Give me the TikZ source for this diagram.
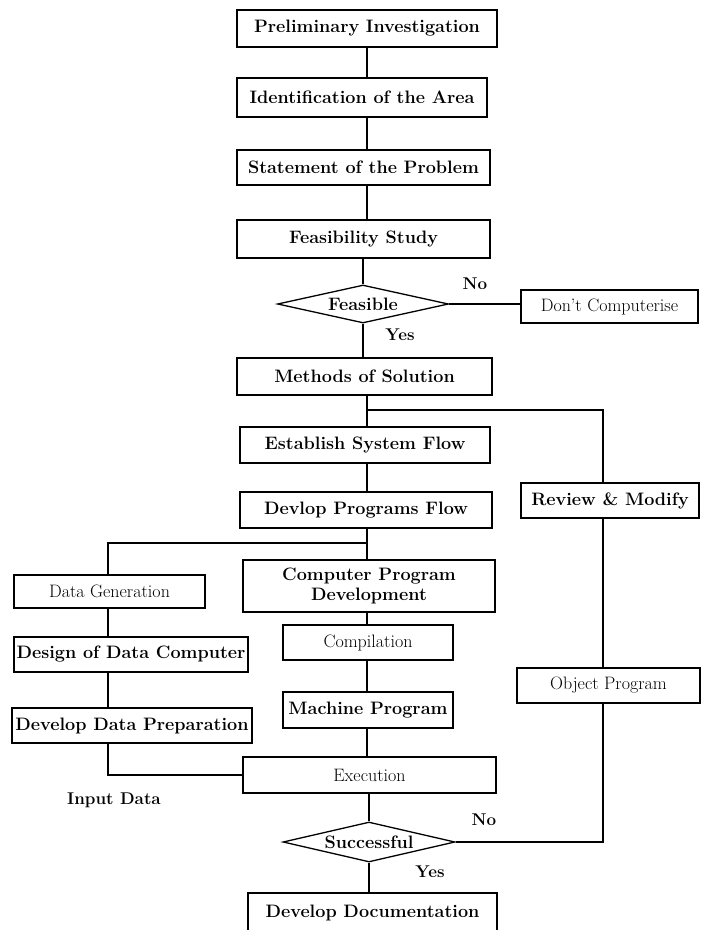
\documentclass[tikz,border=0pt]{standalone}
\usetikzlibrary{shapes.geometric}
\begin{document}
\begin{tikzpicture}[x=1pt,y=-1pt,
  line width=1.3pt,
  box/.style={draw, rectangle, inner sep=0pt, font=\fontsize{18}{20}\selectfont\bfseries, align=center},
  plainbox/.style={box, font=\fontsize{18}{20}\selectfont},
  decision/.style={draw, diamond, inner sep=0pt},
  dtext/.style={font=\fontsize{18}{20}\selectfont\bfseries},
  lbl/.style={font=\fontsize{17}{19}\selectfont\bfseries},
  link/.style={line width=1.3pt}]
\useasboundingbox (0,0) rectangle (701,930);
\fill[white] (0,0) rectangle (701,930);

% main column
\node[box, minimum width=260pt, minimum height=37pt] (prelim) at (367,28.5) {Preliminary Investigation};
\node[box, minimum width=250pt, minimum height=39pt] (ident) at (362,97.5) {Identification of the Area};
\node[box, minimum width=253pt, minimum height=35pt] (stmt) at (363.5,167.5) {Statement of the Problem};
\node[box, minimum width=253pt, minimum height=38pt] (feas) at (363.5,239) {Feasibility Study};
\node[decision, minimum width=171pt, minimum height=38pt] (feasible) at (363,304) {};
\node[dtext] (feasibletxt) at (feasible) {Feasible};
\node[plainbox, minimum width=177pt, minimum height=33pt] (dontc) at (609.5,306.5) {Don't Computerise};
\node[box, minimum width=255pt, minimum height=37pt] (methods) at (364.5,376.5) {Methods of Solution};
\node[box, minimum width=250pt, minimum height=36pt] (estab) at (365,445) {Establish System Flow};
\node[box, minimum width=252pt, minimum height=36pt] (devprog) at (366,510) {Devlop Programs Flow};
\node[box, minimum width=252pt, minimum height=52pt] (cpd) at (369,586) {Computer Program\\Development};
\node[plainbox, minimum width=170pt, minimum height=35pt] (compil) at (368,642.5) {Compilation};
\node[box, minimum width=170pt, minimum height=36pt] (machine) at (368,710) {Machine Program};
\node[plainbox, minimum width=253pt, minimum height=36pt] (exec) at (369.5,775) {Execution};
\node[decision, minimum width=172pt, minimum height=40pt] (success) at (369,842) {};
\node[dtext] (successtxt) at (success) {Successful};
\node[box, minimum width=249pt, minimum height=40pt] (doc) at (372.5,913) {Develop Documentation};

% right loop
\node[box, minimum width=178pt, minimum height=35pt] (review) at (610,500.5) {Review \& Modify};
\node[plainbox, minimum width=183pt, minimum height=35pt] (object) at (608.5,685.5) {Object Program};

% data branch
\node[plainbox, minimum width=191pt, minimum height=33pt] (datagen) at (109.5,591.5) {Data Generation};
\node[box, minimum width=234pt, minimum height=35pt] (design) at (131,654.5) {Design of Data Computer};
\node[box, minimum width=240pt, minimum height=35pt] (devdata) at (132,725.5) {Develop Data Preparation};

% junction points
\coordinate (jtop) at (367,410);
\coordinate (jright) at (603,410);
\coordinate (jmid) at (367,543);
\coordinate (jleft) at (108,543);
\coordinate (jdata) at (108,775);
\coordinate (jloop) at (603,842);

% spine
\draw[link] (367,0 |- prelim.south) -- (367,0 |- ident.north);
\draw[link] (367,0 |- ident.south) -- (367,0 |- stmt.north);
\draw[link] (367,0 |- stmt.south) -- (367,0 |- feas.north);
\draw[link] (feas.south -| feasible.north) -- (feasible.north);
\draw[link] (feasible.east) -- (dontc.west |- feasible.east);
\draw[link] (feasible.south) -- (feasible.south |- methods.north);
\draw[link] (methods.south -| jtop) -- (jtop) -- (jtop |- estab.north);
\draw[link] (estab.south -| jtop) -- (jtop |- devprog.north);
\draw[link] (devprog.south -| jmid) -- (jmid) -- (jmid |- cpd.north);
\draw[link] (cpd.south -| jmid) -- (jmid |- compil.north);
\draw[link] (compil.south -| jmid) -- (jmid |- machine.north);
\draw[link] (machine.south -| jmid) -- (jmid |- exec.north);
\draw[link] (exec.south -| success.north) -- (success.north);
\draw[link] (success.south) -- (success.south |- doc.north);

% review loop
\draw[link] (success.east) -- (jloop) -- (jloop |- object.south);
\draw[link] (jloop |- object.north) -- (jloop |- review.south);
\draw[link] (jloop |- review.north) -- (jright) -- (jtop);

% data branch
\draw[link] (jmid) -- (jleft) -- (jleft |- datagen.north);
\draw[link] (jleft |- datagen.south) -- (jleft |- design.north);
\draw[link] (jleft |- design.south) -- (jleft |- devdata.north);
\draw[link] (jleft |- devdata.south) -- (jdata) -- (exec.west |- jdata);

% labels
\node[lbl] (no1) at (475,284) {No};
\node[lbl] (yes1) at (400,335) {Yes};
\node[lbl] (no2) at (484,820) {No};
\node[lbl] (yes2) at (430,872) {Yes};
\node[lbl] (indata) at (114,800) {Input Data};
\end{tikzpicture}
\end{document}
